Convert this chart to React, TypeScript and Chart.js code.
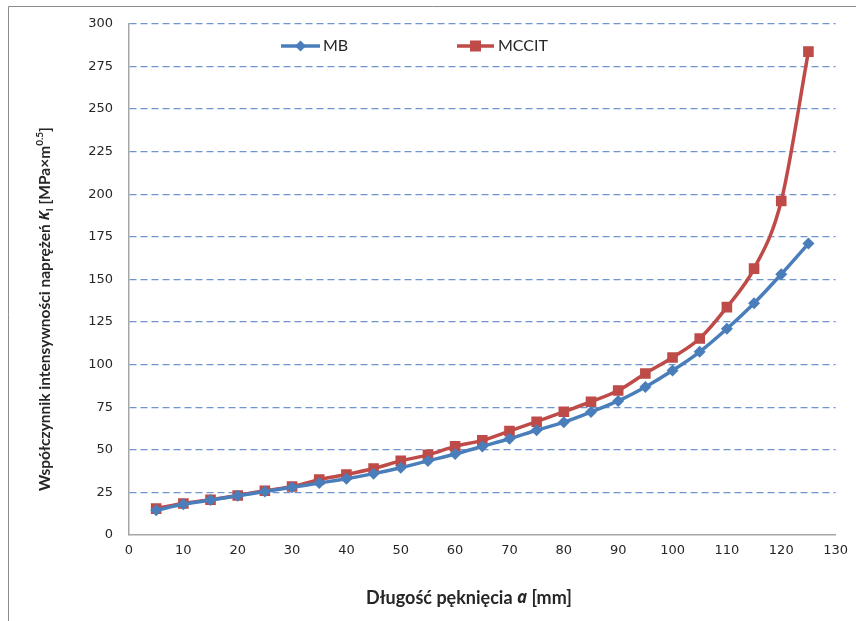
import React, { useEffect, useRef } from "react";
import { Chart, registerables } from "chart.js";

Chart.register(...registerables);

const crackLength = [5, 10, 15, 20, 25, 30, 35, 40, 45, 50, 55, 60, 65, 70, 75, 80, 85, 90, 95, 100, 105, 110, 115, 120, 125];
const mbValues = [14.5, 18, 20.5, 23, 25.5, 28, 30.5, 33, 36, 39.5, 43.5, 47.5, 52, 56.5, 61.5, 66.2, 72.2, 78.7, 86.9, 96.5, 107.5, 121, 136, 153, 171];
const mccitValues = [15.5, 18.5, 20.7, 23.2, 26, 28.5, 32.5, 35.5, 39, 43.5, 47, 52, 55.5, 61, 66.5, 72.3, 78.2, 84.8, 94.8, 104.2, 115.3, 133.7, 156.3, 196, 283.7];
const yTicks = [0, 25, 50, 75, 100, 125, 150, 175, 200, 225, 250, 275, 300];
const seriesNames = ["MB", "MCCIT"];

const BLUE = "#4a7ebb";
const RED = "#be4b48";
const TEXT = "#262626";
const FONT = "Lato, 'Open Sans', sans-serif";
const ITALIC_FONT = "'Open Sans', 'DejaVu Sans', sans-serif";

type Seg = { t: string; italic?: boolean; sub?: boolean; sup?: boolean };

function drawSegs(ctx: CanvasRenderingContext2D, segs: Seg[], size: number, cx: number, cy: number) {
  const fontFor = (s: Seg) =>
    s.italic
      ? `italic bold ${Math.round(size * 0.95)}px ${ITALIC_FONT}`
      : `bold ${s.sub || s.sup ? Math.round(size * 0.65) : size}px ${FONT}`;
  let total = 0;
  for (const s of segs) {
    ctx.font = fontFor(s);
    total += ctx.measureText(s.t).width;
  }
  let x = cx - total / 2;
  ctx.textBaseline = "middle";
  ctx.textAlign = "left";
  for (const s of segs) {
    ctx.font = fontFor(s);
    const dy = s.sub ? size * 0.3 : s.sup ? -size * 0.35 : 0;
    ctx.fillText(s.t, x, cy + dy);
    x += ctx.measureText(s.t).width;
  }
}

const decorPlugin = {
  id: "decor",
  beforeDraw(chart: any) {
    const ctx = chart.ctx as CanvasRenderingContext2D;
    ctx.save();
    ctx.fillStyle = "#ffffff";
    ctx.fillRect(0, 0, chart.width, chart.height);
    ctx.strokeStyle = "#8c8c8c";
    ctx.lineWidth = 1;
    ctx.beginPath();
    ctx.moveTo(8.5, chart.height + 5);
    ctx.lineTo(8.5, 6.5);
    ctx.lineTo(chart.width + 5, 6.5);
    ctx.stroke();
    ctx.restore();
  },
  afterDraw(chart: any) {
    const ctx = chart.ctx as CanvasRenderingContext2D;
    ctx.save();
    ctx.fillStyle = TEXT;
    drawSegs(ctx, [{ t: "Długość pęknięcia " }, { t: "a", italic: true }, { t: " [mm]" }], 18, 469, 598);
    ctx.translate(45, 309);
    ctx.rotate(-Math.PI / 2);
    drawSegs(
      ctx,
      [
        { t: "Współczynnik intensywności naprężeń " },
        { t: "K", italic: true },
        { t: "I", sub: true },
        { t: " [MPa×m" },
        { t: "0.5", sup: true },
        { t: "]" },
      ],
      15.5,
      0,
      0
    );
    ctx.restore();

    const items = [
      { x0: 281, x1: 320, tx: 323, ds: chart.data.datasets[0] },
      { x0: 457, x1: 494, tx: 498, ds: chart.data.datasets[1] },
    ];
    const ly = 46;
    ctx.save();
    for (const it of items) {
      ctx.strokeStyle = it.ds.borderColor;
      ctx.lineWidth = 3.5;
      ctx.beginPath();
      ctx.moveTo(it.x0, ly);
      ctx.lineTo(it.x1, ly);
      ctx.stroke();
      const mx = (it.x0 + it.x1) / 2;
      ctx.fillStyle = it.ds.borderColor;
      if (it.ds.pointStyle === "rect") {
        ctx.fillRect(mx - 5.5, ly - 5.5, 11, 11);
      } else {
        ctx.beginPath();
        ctx.moveTo(mx, ly - 5.5);
        ctx.lineTo(mx + 5.5, ly);
        ctx.lineTo(mx, ly + 5.5);
        ctx.lineTo(mx - 5.5, ly);
        ctx.closePath();
        ctx.fill();
      }
      ctx.fillStyle = TEXT;
      ctx.font = `16px ${FONT}`;
      ctx.textBaseline = "middle";
      ctx.textAlign = "left";
      ctx.fillText(it.ds.label, it.tx, ly);
    }
    ctx.restore();
  },
};

export default function App() {
  const ref = useRef<HTMLCanvasElement>(null);
  useEffect(() => {
    if (!ref.current) return;
    const chart = new Chart(ref.current, {
      type: "line",
      data: {
        datasets: [
          {
            label: seriesNames[0],
            data: crackLength.map((x, i) => ({ x, y: mbValues[i] })),
            borderColor: BLUE,
            backgroundColor: BLUE,
            borderWidth: 3.5,
            pointStyle: "rectRot",
            pointRadius: 6,
            pointBorderWidth: 0,
            tension: 0.35,
            cubicInterpolationMode: "monotone",
          },
          {
            label: seriesNames[1],
            data: crackLength.map((x, i) => ({ x, y: mccitValues[i] })),
            borderColor: RED,
            backgroundColor: RED,
            borderWidth: 3.5,
            pointStyle: "rect",
            pointRadius: 7.5,
            pointBorderWidth: 0,
            tension: 0.35,
            cubicInterpolationMode: "monotone",
          },
        ],
      },
      options: {
        animation: false,
        responsive: false,
        layout: { padding: { left: 0, right: 16, top: 23, bottom: 0 } },
        plugins: { legend: { display: false }, tooltip: { enabled: false } },
        scales: {
          x: {
            type: "linear",
            min: 0,
            max: 130,
            ticks: { stepSize: 10, color: TEXT, font: { family: "'DejaVu Sans'", size: 13 }, padding: 8, maxRotation: 0 },
            grid: { display: false, drawTicks: false },
            border: { color: "#a6a6a6", width: 1.5 },
            afterFit: (s: any) => {
              s.height = 86;
            },
          },
          y: {
            min: 0,
            max: 300,
            afterBuildTicks: (s: any) => {
              s.ticks = yTicks.map((v) => ({ value: v }));
            },
            ticks: { color: TEXT, font: { family: "'DejaVu Sans'", size: 13 }, padding: 16 },
            grid: {
              drawTicks: false,
              color: (c: any) => (c.tick && c.tick.value === 0 ? "rgba(0,0,0,0)" : "#6f95cc"),
              lineWidth: 1.3,
            },
            border: { color: "#a6a6a6", width: 1.5, dash: [7, 4] },
            afterFit: (s: any) => {
              s.width = 129;
            },
          },
        },
      } as any,
      plugins: [decorPlugin],
    });
    return () => chart.destroy();
  }, []);
  return (
    <div style={{ position: "absolute", left: 0, top: 0, width: 856, height: 621 }}>
      <canvas ref={ref} width={856} height={621} style={{ display: "block" }} />
    </div>
  );
}
